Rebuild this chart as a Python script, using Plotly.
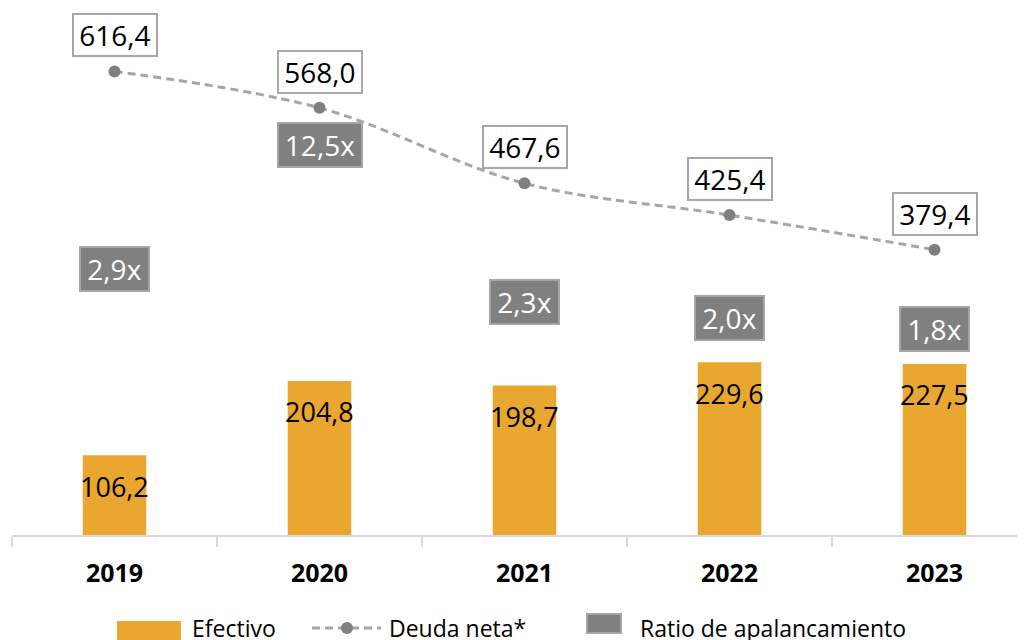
import plotly.graph_objects as go

# ---- data ----
years = ["2019", "2020", "2021", "2022", "2023"]
efectivo = [106.2, 204.8, 198.7, 229.6, 227.5]
deuda_neta = [616.4, 568.0, 467.6, 425.4, 379.4]
ratio_apalancamiento = [2.9, 12.5, 2.3, 2.0, 1.8]

# ---- style ----
BAR_COLOR = "#E9A730"
LINE_COLOR = "#A6A6A6"
MARKER_COLOR = "#808080"
BOX_GRAY = "#808080"
BOX_EDGE = "#A6A6A6"
AXIS_COLOR = "#D9D9D9"
FONT = "Open Sans"
LABEL_SIZE = 28

W, H = 1025, 640
OFF = 8               # page body margin
L = 12 - OFF
PLOT_W = W - L
PLOT_H = 535 - OFF    # plot area bottom sits at page y=535
B = H - PLOT_H
CAT_PX = 205          # pixels per category
Y_PX = 0.752          # pixels per unit (bars / debt)
Y2_RANGE = [(427.2 - 535) / 54.4, (427.2 - OFF) / 54.4]


def fmt(v):
    return f"{v:.1f}".replace(".", ",")


def px_x(px):
    # page pixel -> paper x
    return (px - 12) / PLOT_W


def px_y(py):
    # page pixel -> paper y
    return (535 - py) / PLOT_H


fig = go.Figure()

fig.add_trace(go.Bar(
    x=years, y=efectivo, width=0.31,
    marker=dict(color=BAR_COLOR, line=dict(width=0)),
    name="Efectivo", showlegend=False, hoverinfo="x+y",
))

fig.add_trace(go.Scatter(
    x=years, y=deuda_neta, mode="lines+markers",
    line=dict(color=LINE_COLOR, width=3, dash="8px,5px", shape="spline", smoothing=1),
    marker=dict(color=MARKER_COLOR, size=12),
    name="Deuda neta*", showlegend=False, cliponaxis=False,
))

fig.add_trace(go.Scatter(
    x=years, y=ratio_apalancamiento, yaxis="y2", mode="markers",
    marker=dict(color=BOX_GRAY, size=10, symbol="square", opacity=0),
    name="Ratio de apalancamiento", showlegend=False, hoverinfo="skip",
))

annotations = []

# bar value labels
for i, v in enumerate(efectivo):
    annotations.append(dict(
        x=i, y=v, xref="x", yref="y", text=fmt(v), showarrow=False,
        yshift=-31, font=dict(size=27, color="#000000", family=FONT),
    ))

# debt labels in white boxes
for i, v in enumerate(deuda_neta):
    t = fmt(v)
    annotations.append(dict(
        x=i, y=v, xref="x", yref="y", text=t, showarrow=False,
        yshift=36, width=15 * len(t) + 1, height=34,
        bgcolor="#FFFFFF", bordercolor=BOX_EDGE, borderwidth=2, borderpad=3,
        font=dict(size=LABEL_SIZE, color="#000000", family=FONT),
    ))

# leverage ratio labels in gray boxes
for i, (r, d) in enumerate(zip(ratio_apalancamiento, deuda_neta)):
    t = fmt(r) + "x"
    box = dict(
        x=i, xref="x", text=t, showarrow=False,
        width=15 * len(t) + 1, height=36,
        bgcolor=BOX_GRAY, bordercolor=BOX_EDGE, borderwidth=2, borderpad=3,
        font=dict(size=LABEL_SIZE, color="#FFFFFF", family=FONT),
    )
    if r > Y2_RANGE[1]:
        # out of scale: hang it under the debt marker
        box.update(y=d, yref="y", yshift=-37)
    else:
        box.update(y=r, yref="y2")
    annotations.append(box)

# custom legend
legend_y = px_y(628)
shapes = [
    dict(type="rect", xref="paper", yref="paper",
         x0=px_x(117), x1=px_x(181), y0=px_y(645), y1=px_y(621),
         fillcolor=BAR_COLOR, line=dict(width=0)),
    dict(type="line", xref="paper", yref="paper",
         x0=px_x(312), x1=px_x(381), y0=legend_y, y1=legend_y,
         line=dict(color=LINE_COLOR, width=3, dash="8px,5px")),
    dict(type="circle", xref="paper", yref="paper",
         x0=px_x(341), x1=px_x(353), y0=px_y(634), y1=px_y(622),
         fillcolor=MARKER_COLOR, line=dict(width=0)),
    dict(type="rect", xref="paper", yref="paper",
         x0=px_x(587), x1=px_x(621), y0=px_y(633), y1=px_y(614),
         fillcolor=BOX_GRAY, line=dict(color=BOX_EDGE, width=2)),
]
for label, left in [("Efectivo", 190), ("Deuda neta*", 387), ("Ratio de apalancamiento", 638)]:
    annotations.append(dict(
        x=px_x(left), y=legend_y, xref="paper", yref="paper",
        xanchor="left", yanchor="middle", text=label, showarrow=False,
        font=dict(size=23, color="#000000", family=FONT),
    ))

fig.update_layout(
    width=W, height=H,
    margin=dict(l=L, r=0, t=0, b=B),
    paper_bgcolor="#FFFFFF", plot_bgcolor="#FFFFFF",
    font=dict(family=FONT, color="#000000"),
    showlegend=False,
    xaxis=dict(
        type="category", range=[-0.5, -0.5 + PLOT_W / CAT_PX],
        showline=True, linecolor=AXIS_COLOR, linewidth=2,
        ticks="outside", tickson="boundaries", ticklen=10, tickcolor=AXIS_COLOR, tickwidth=2,
        ticklabelstandoff=15,
        tickfont=dict(size=25, color="#000000", family=FONT, weight="bold"),
        showgrid=False, zeroline=False, fixedrange=True,
    ),
    yaxis=dict(range=[0, PLOT_H / Y_PX], visible=False, showgrid=False, fixedrange=True),
    yaxis2=dict(range=Y2_RANGE, overlaying="y", visible=False, showgrid=False, fixedrange=True),
    annotations=annotations,
    shapes=shapes,
)

fig.write_html("out.html")
